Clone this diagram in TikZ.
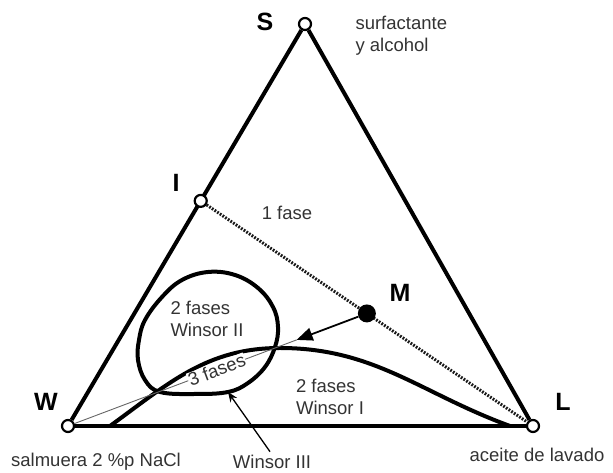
\documentclass[tikz,border=0pt]{standalone}
\usepackage{fontspec}
\setmainfont{Liberation Sans}
\usetikzlibrary{arrows.meta,positioning,calc,backgrounds}

\begin{document}
\begin{tikzpicture}[
    x=1pt, y=1pt,
    vertex/.style={circle, draw=black, line width=2.2pt, fill=white, inner sep=0pt, minimum size=12pt},
    mixpoint/.style={circle, fill=black, inner sep=0pt, minimum size=18pt},
    side/.style={line width=4pt},
    tieline/.style={line width=3pt, black!90, dash pattern=on 1.8pt off 1.4pt},
    txt/.style={text=black!80, font=\fontsize{18.5}{22}\selectfont, align=left},
    letter/.style={font=\fontsize{25}{28}\selectfont\bfseries},
    phasecurve/.style={line width=4pt},
    thinline/.style={line width=0.9pt, black!60},
    arrow/.style={-{Triangle[length=16pt,width=13pt]}, line width=1.8pt},
    pointer/.style={-{Stealth[length=10pt,width=8pt]}, line width=1.3pt}
]

\useasboundingbox (0,0) rectangle (613,473);

% corners of the diagram
\node[vertex] (S) at (305,449) {};
\node[vertex] (W) at (68,47) {};
\node[vertex] (L) at (533,47) {};
\node[vertex] (I) at ($(W)!0.56!(S)$) {};
\node[mixpoint] (M) at ($(I)!0.5!(L)$) {};

\coordinate (tip) at ($(W)!0.765!(M)$);
\coordinate (wIstart) at (110,47);
\coordinate (wIend) at (510,47);
\coordinate (lensbot) at (228,81);

\begin{scope}[on background layer]
\draw[side] (W) -- (S);
\draw[side] (S) -- (L);
\draw[side] (W) -- (L);
\draw[tieline] (I) -- (L);
\end{scope}

% phase boundaries
\draw[phasecurve] (wIstart) to[out=36,in=180] (280,125) to[out=0,in=160] (wIend);
\draw[phasecurve] plot[smooth cycle, tension=0.65] coordinates {
    (208,201) (235,198) (258,185) (273,166) (278,146) (275,126) (265,106)
    (248,90) (228,81) (195,79) (160,81) (145,93) (138,113) (139,133)
    (145,153) (162,176) (182,193)};

\draw[thinline] (W) -- node[txt, sloped, pos=0.64, fill=white, inner sep=0.5pt] (three) {3 fases} (tip);
\draw[arrow] (M) -- (tip);

% labels
\node[letter] (Slbl) at (265,451) {S};
\node[txt, anchor=west] (Stxt) at (352,437) {surfactante\\y alcohol};
\node[letter] (Ilbl) at (176,290) {I};
\node[txt] (one) at (287,260) {1 fase};
\node[letter] (Mlbl) at (400,180) {M};
\node[txt] (wII) at (207,154) {2 fases\\Winsor II};
\node[txt] (wI) at (330,76) {2 fases\\Winsor I};
\node[letter] (Wlbl) at (46,71) {W};
\node[letter] (Llbl) at (563,71) {L};
\node[txt] (brine) at (96,11) {salmuera 2 \%p NaCl};
\node[txt] (wIII) at (272,11) {Winsor III};
\node[txt] (oil) at (537,18) {aceite de lavado};

\draw[pointer] ([xshift=-2pt]wIII.north) -- (lensbot);

\end{tikzpicture}
\end{document}
